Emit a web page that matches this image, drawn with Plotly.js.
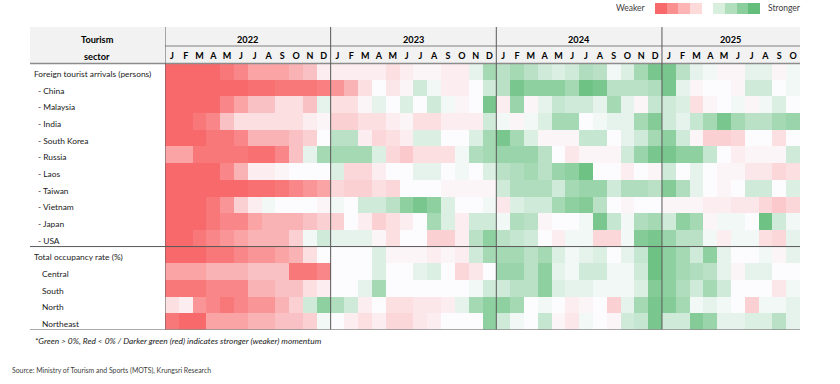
<!DOCTYPE html>
<html>
<head>
<meta charset="utf-8">
<script src="https://cdn.plot.ly/plotly-3.0.1.min.js"></script>
<style>
  html, body { margin: 0; padding: 0; background: #ffffff; }
  #chart { width: 840px; height: 384px; }
</style>
</head>
<body>
<div id="chart"></div>
<script>
// ---------- data ----------
const years = ["2022", "2023", "2024", "2025"];
const monthsPerYear = [12, 12, 12, 10];
const monthLetters = ["J","F","M","A","M","J","J","A","S","O","N","D"];

const rowLabels = [
  "Foreign tourist arrivals (persons)",
  "- China",
  "- Malaysia",
  "- India",
  "- South Korea",
  "- Russia",
  "- Laos",
  "- Taiwan",
  "- Vietnam",
  "- Japan",
  "- USA",
  "Total occupancy rate (%)",
  "Central",
  "South",
  "North",
  "Northeast"
];

// momentum intensity index (negative = weaker / red, positive = stronger / green)
const foreignArrivals = [-10,-10,-10,-10,-9,-8,-6,-6,-6,-5,-4,-1,  -1,-1,-1,-1,-2,-1,-0.5,-0.5,-1,-1,1,4,  3,4,3,2,1.5,2,3.5,3,0.5,1.5,4,6,  6,3,1,0.5,-0.5,-0.5,1,1,-0.5,0.5];
const china          = [-10,-10,-10,-10,-10,-10,-9.5,-9.5,-9,-9,-9,-8.5,  -7,-5,-2,0,-1.5,-0.5,2,0.5,-1,-1,0,2,  3,6,5,5,5,4,6.5,6,3,3,3,3.5,  6,1,-0.5,0,0,-0.5,2,2,0,0.5];
const malaysia       = [-10,-10,-10,-10,-8,-6,-4,-4,-2,-2,-4,1,  -2,-2,-0.5,1,0,1.5,0,2,0.5,-0.5,0,6,  -1,4.5,-0.5,1,2.5,2,2,1,4,1,-0.5,2.5,  2,1.5,-2,-0.5,0,0.5,-0.5,0.5,1.5,0];
const india          = [-10,-10,-9,-8,-4,-2,-2,-2,-2,-2,-1,-0.5,  -3,-3,-2,-2,-1,-0.5,-2,-2,-1,-1,-1,2,  0.5,-0.5,0.5,1.5,4,4,0,0.5,1,1,4,5.5,  2,1,2.5,4,6,4,3,3,4,4.5];
const southKorea     = [-10,-10,-10,-9,-9,-8,-5,-5,-5,-4,-3,0,  3,3,-1,-2.5,-2,-1,1.5,1.5,0,0,1.5,4,  6,4,1.5,-0.5,-0.5,-0.5,2.5,2.5,0,1,2,4,  5,2,-0.5,-3,-3,-2.5,0,0,-2,0];
const russia         = [-6,-6,-9,-9,-9,-9,-9.5,-9.5,-8,-4,1,4,  4,4,4,1.5,-2.5,-3.5,-2,-2,-2,0.5,3.5,4,  4.5,4.5,4.5,3,0,-1.5,-0.5,-0.5,-0.5,2,4.5,6,  6,5,5,2.5,0,-1,-0.5,-0.5,-0.5,2];
const laos           = [-10,-10,-10,-10,-8,-5,-1,-1,-0.5,0,0,0,  1.5,-2.5,-2.5,-1,0,0,1,1,0,0.5,0,1.5,  3,3.5,4,3,4.5,5,6.5,0,0,-1,0,-0.5,  2,0,1,0,-0.5,-0.5,-1.5,-1.5,-2.5,-2];
const taiwan         = [-10,-10,-10,-10,-10,-10,-9.5,-9.5,-9,-8,-7,-6,  -2.5,-3,-3,-2,-2.5,0,0,0,-0.5,-0.5,-0.5,-0.5,  2,3.5,3.5,3.5,2,4,4.5,4.5,2,3.5,3.5,3,  5.5,3.5,1,0,-0.5,0,2,2,0,1.5];
const vietnam        = [-10,-10,-10,-9,-7,-3,-1,0.5,0,0,0,-0.5,  0.5,0,2,2,3,5,6,5,1.5,0,0,0.5,  -1.5,1.5,2,2,4,5,5.5,3,0,-0.5,0,0,  -0.5,-0.5,-0.5,-1,-1,-1.5,-1.5,-2.5,-3.5,-2.5];
const japan          = [-10,-10,-10,-9,-8,-8,-6,-5,-5,-5,-4,-3,  -3,0,-1,-3,-2,-1,0,4,1.5,-1,2,2,  0.5,3.5,3,-0.5,0,0,0.5,6,2.5,0.5,3.5,4,  2,5,4,-0.5,0.5,0.5,0,6.5,2,0.5];
const usa            = [-10,-10,-9,-8,-7,-6,-5,-5,-5,-3,0.5,2,  1,1,1,-0.5,-2,0,0,-3,-3,-1,3,5,  3,2.5,2,0,-1,0.5,0.5,-2.5,-2.5,0.5,5.5,6,  4.5,3,3,0.5,-1,0.5,0.5,-2,-2.5,1];
const totalOccupancy = [-10,-10,-10,-9,-9,-8,-7,-7,-6,-5,-2,0,  0,0,0,1.5,-0.5,-0.5,-0.5,-1,-0.5,-1,2,4,  4,4,3,4,1.5,0.5,1,1.5,0,1,2.5,6.5,  5,4,2,5,1,0,0,0.5,-0.5,1];
const central        = [-6,-6,-6,-5,-5,-5,-4,-4,-4,-9,-9,-8,  0,0,0,1.5,0,0,1,1.5,0,-2.5,-1.5,0,  4.5,4.5,3,5,1,0.5,2,2,0.5,0.5,2,6.5,  5,4,3.5,3,1,-0.5,1,1,0,0];
const south          = [-9,-9,-9,-8,-8,-8,-5,-5,-4,-4,-2,-1,  0,0,1,4,0,0,0,0,0,0,0.5,2,  2,3,3,5,1.5,1,1,0.5,0.5,0.5,1.5,5.5,  5,3.5,2,4,2,0,0,0,-1.5,0.5];
const north          = [-2,-1,-7,-8,-9,-8,-7,-7,-5,-3,2,5,  3.5,2,-1,0,-2,-2,-1.5,-1.5,-1,1,4,5,  5,4,0,0.5,0,-1,-0.5,0,-3,1,4,6,  5.5,4,0.5,1,0.5,0,-3,0.5,0.5,1];
const northeast      = [-9,-10,-10,-6,-6,-6,-5,-5,-4,-4,-3,0.5,  0,-1,-2,-1,-2.5,-2.5,-1.5,-1,0,0,0,5,  2,0.5,0,2.5,-0.5,-1.5,0.5,0,-0.5,2,2.5,6,  2,2,5.5,4.5,1,1,1.5,1.5,3,1];

const legendLevels = [-4,-3,-2,-1,0,1,2,3,4];

// ---------- build ----------
const zRows = [foreignArrivals, china, malaysia, india, southKorea, russia, laos, taiwan,
               vietnam, japan, usa, totalOccupancy, central, south, north, northeast];

const colLabels = [];
years.forEach((yr, yi) => {
  for (let m = 0; m < monthsPerYear[yi]; m++) colLabels.push(monthLetters[m]);
});
const nCols = colLabels.length;
const colIdx = colLabels.map((_, i) => i);
const rowIdx = rowLabels.map((_, i) => i);

const RED = "#F8696B", WHITE = "#FCFCFF", GREEN = "#63BE7B";
const zMin = -10, zMax = 7;
const whitePos = (0 - zMin) / (zMax - zMin);

const W = 840, H = 384;
const px = v => v / W;
const py = v => 1 - v / H;

const FONT = "Lato, 'Liberation Sans', sans-serif";

const heat = {
  type: "heatmap",
  x: colIdx, y: rowIdx, z: zRows,
  zmin: zMin, zmax: zMax,
  colorscale: [[0, RED], [whitePos, WHITE], [1, GREEN]],
  showscale: false, hoverinfo: "skip",
  xaxis: "x", yaxis: "y"
};

const legendHeat = {
  type: "heatmap",
  x: legendLevels.map((_, i) => i), y: [0], z: [legendLevels],
  zmin: -4, zmax: 4,
  colorscale: [[0, RED], [0.5, "#FFFFFF"], [1, GREEN]],
  showscale: false, hoverinfo: "skip",
  xaxis: "x2", yaxis: "y2"
};

// year block boundaries (data coords)
const yearStarts = [];
let acc = 0;
monthsPerYear.forEach(n => { yearStarts.push(acc); acc += n; });

const shapes = [];
shapes.push({type: "rect", xref: "paper", yref: "paper", x0: px(30), x1: px(800), y0: py(63), y1: py(27),
             fillcolor: "#F2F2F2", line: {width: 0}, layer: "below"});
shapes.push({type: "line", xref: "paper", yref: "paper", x0: px(165), x1: px(800), y0: py(46), y1: py(46),
             line: {color: "#A6A6A6", width: 1.5}});
shapes.push({type: "line", xref: "paper", yref: "paper", x0: px(30), x1: px(800), y0: py(63.5), y1: py(63.5),
             line: {color: "#8C8C8C", width: 1.5}});
yearStarts.forEach(s => {
  shapes.push({type: "line", xref: "x", yref: "paper", x0: s - 0.5, x1: s - 0.5, y0: py(330), y1: py(27),
               line: {color: "#595959", width: 1}});
});
shapes.push({type: "line", xref: "paper", yref: "y", x0: px(30), x1: px(800), y0: 10.5, y1: 10.5,
             line: {color: "#595959", width: 1}});
shapes.push({type: "line", xref: "paper", yref: "y", x0: px(30), x1: px(800), y0: rowLabels.length - 0.5, y1: rowLabels.length - 0.5,
             line: {color: "#8C8C8C", width: 1.5}});

const annotations = [];
const boldFont = {family: FONT, size: 9.2, color: "#000000", weight: 700};
annotations.push({xref: "paper", yref: "paper", x: px(97), y: py(39), text: "Tourism", showarrow: false,
                  font: boldFont, xanchor: "center", yanchor: "middle"});
annotations.push({xref: "paper", yref: "paper", x: px(97), y: py(56), text: "sector", showarrow: false,
                  font: boldFont, xanchor: "center", yanchor: "middle"});
years.forEach((yr, yi) => {
  annotations.push({xref: "x", yref: "paper", x: yearStarts[yi] + (monthsPerYear[yi] - 1) / 2, y: py(39),
                    text: yr, showarrow: false, font: boldFont, xanchor: "center", yanchor: "middle"});
});
rowLabels.forEach((lab, i) => {
  let xPos = 32;
  if (lab.startsWith("-")) xPos = 36;
  else if (i !== 0 && i !== 11) xPos = 40;
  annotations.push({xref: "paper", yref: "y", x: px(xPos), y: i, yshift: -2.5, text: lab, showarrow: false,
                    xanchor: "left", yanchor: "middle", font: {family: FONT, size: 8.4, color: "#1a1a1a"}});
});
annotations.push({xref: "paper", yref: "paper", x: px(33), y: py(341),
  text: "<i>*Green > 0%, Red < 0% / Darker green (red) indicates stronger (weaker) momentum</i>",
  showarrow: false, xanchor: "left", yanchor: "middle", font: {family: FONT, size: 8.4, color: "#1a1a1a"}});
annotations.push({xref: "paper", yref: "paper", x: px(10), y: py(370),
  text: "Source: Ministry of Tourism and Sports (MOTS), Krungsri Research",
  showarrow: false, xanchor: "left", yanchor: "middle", font: {family: FONT, size: 6.9, color: "#404040"}});
annotations.push({xref: "paper", yref: "paper", x: px(648), y: py(8), text: "Weaker",
  showarrow: false, xanchor: "right", yanchor: "middle", font: {family: FONT, size: 8.5, color: "#404040"}});
annotations.push({xref: "paper", yref: "paper", x: px(766), y: py(8), text: "Stronger",
  showarrow: false, xanchor: "left", yanchor: "middle", font: {family: FONT, size: 8.5, color: "#404040"}});

const layout = {
  width: W, height: H,
  margin: {l: 0, r: 0, t: 0, b: 0, pad: 0},
  paper_bgcolor: "#ffffff", plot_bgcolor: "#ffffff",
  showlegend: false,
  xaxis: {
    domain: [px(165), px(800)], range: [-0.5, nCols - 0.5],
    side: "top", tickmode: "array", tickvals: colIdx, ticktext: colLabels,
    tickfont: {family: FONT, size: 9, color: "#000000", weight: 700},
    ticks: "", showgrid: false, zeroline: false, showline: false, fixedrange: true,
    ticklabelstandoff: 1
  },
  yaxis: {
    domain: [py(330), py(63)], range: [rowLabels.length - 0.5, -0.5],
    showticklabels: false, ticks: "", showgrid: false, zeroline: false, showline: false, fixedrange: true
  },
  xaxis2: {
    domain: [px(655), px(760)], range: [-0.5, legendLevels.length - 0.5], anchor: "y2",
    visible: false, fixedrange: true
  },
  yaxis2: {
    domain: [py(14), py(3)], range: [-0.5, 0.5], anchor: "x2",
    visible: false, fixedrange: true
  },
  shapes: shapes,
  annotations: annotations
};

Plotly.newPlot("chart", [heat, legendHeat], layout, {staticPlot: true, displayModeBar: false});
</script>
</body>
</html>
